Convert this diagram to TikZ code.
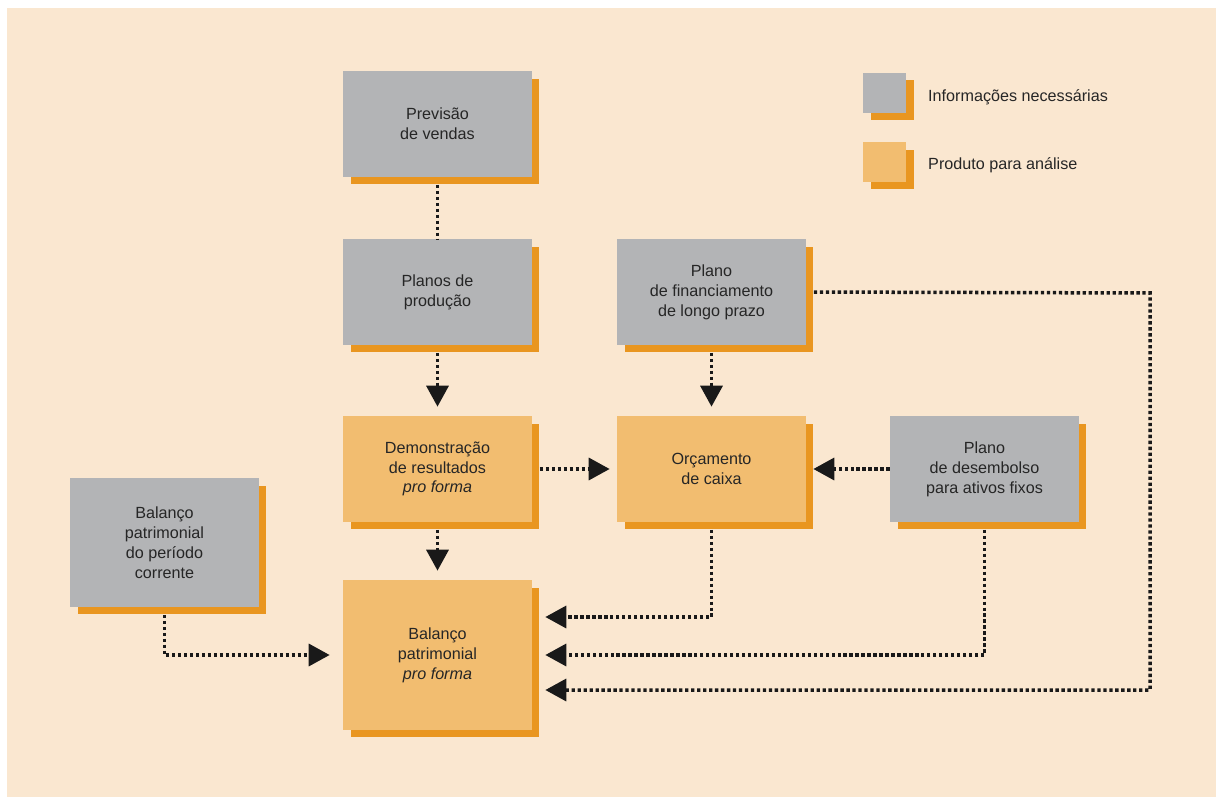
\documentclass[tikz,border=0pt]{standalone}
\usepackage{fontspec}
\setmainfont{Liberation Sans}
\usetikzlibrary{calc, arrows.meta, shadows}
\definecolor{fundo}{RGB}{250,231,208}
\definecolor{cinza}{RGB}{179,180,182}
\definecolor{claro}{RGB}{242,189,112}
\definecolor{sombra}{RGB}{233,150,32}
\tikzset{
    caixa/.style={minimum width=3.78cm, minimum height=2.12cm, align=center, inner sep=0pt,
        font=\fontsize{9.2}{11.3}\selectfont, text=black!85,
        drop shadow={shadow xshift=0.15cm, shadow yshift=-0.15cm, fill=sombra, opacity=1}},
    info/.style={caixa, fill=cinza},
    prod/.style={caixa, fill=claro},
    fluxo/.style={draw=black!90, line width=2pt, dash pattern=on 1.9pt off 1.5pt, shorten <=0.15cm,
        -{Triangle[length=0.42cm, width=0.44cm]}},
}
\begin{document}
\begin{tikzpicture}[x=0.02cm, y=-0.02cm]
    \useasboundingbox (0,0) rectangle (1216,797);
    \fill[fundo] (7,8) rectangle (1216,797);
    \node[info] (prev) at (437.5,124) {Previsão\\de vendas};
    \node[info] (plan) at (437.5,292) {Planos de\\produção};
    \node[info] (fin) at (711.5,292) {Plano\\de financiamento\\de longo prazo};
    \node[prod] (dem) at (437.5,469) {Demonstração\\de resultados\\\textit{pro forma}};
    \node[prod] (orc) at (711.5,469) {Orçamento\\de caixa};
    \node[info] (des) at (984.5,469) {Plano\\de desembolso\\para ativos fixos};
    \node[info, minimum height=2.58cm] (balc) at (164.5,542.5) {Balanço\\patrimonial\\do período\\corrente};
    \node[prod, minimum height=3cm] (balp) at (437.5,655) {Balanço\\patrimonial\\\textit{pro forma}};
    \node[info, minimum width=0.86cm, minimum height=0.8cm] (leg1) at (884.5,93) {};
    \node[prod, minimum width=0.86cm, minimum height=0.8cm] (leg2) at (884.5,162) {};
    \node[anchor=west, font=\fontsize{9.2}{11.3}\selectfont, text=black!85] at (922,97) {Informações necessárias};
    \node[anchor=west, font=\fontsize{9.2}{11.3}\selectfont, text=black!85] at (922,165) {Produto para análise};
    \draw[fluxo, -] (prev.south) -- (plan.north);
    \draw[fluxo, shorten >=0.18cm] (plan.south) -- (dem.north);
    \draw[fluxo, shorten >=0.18cm] (fin.south) -- (orc.north);
    \draw[fluxo, shorten >=0.14cm] (dem.east) -- (orc.west);
    \draw[fluxo, shorten <=0pt, shorten >=0.14cm] (des.west) -- (orc.east);
    \draw[fluxo, shorten >=0.18cm] (dem.south) -- (balp.north);
    \draw[fluxo, shorten >=0.26cm] (balc.south) |- (balp.west |- 0,655);
    \draw[fluxo, shorten >=0.26cm] (orc.south) |- (balp.east |- 0,617);
    \draw[fluxo, shorten >=0.26cm] (des.south) |- (balp.east |- 0,655);
    \draw[fluxo, shorten >=0.26cm] (fin.east) -- (1150,293) |- (balp.east |- 0,690);
\end{tikzpicture}
\end{document}
